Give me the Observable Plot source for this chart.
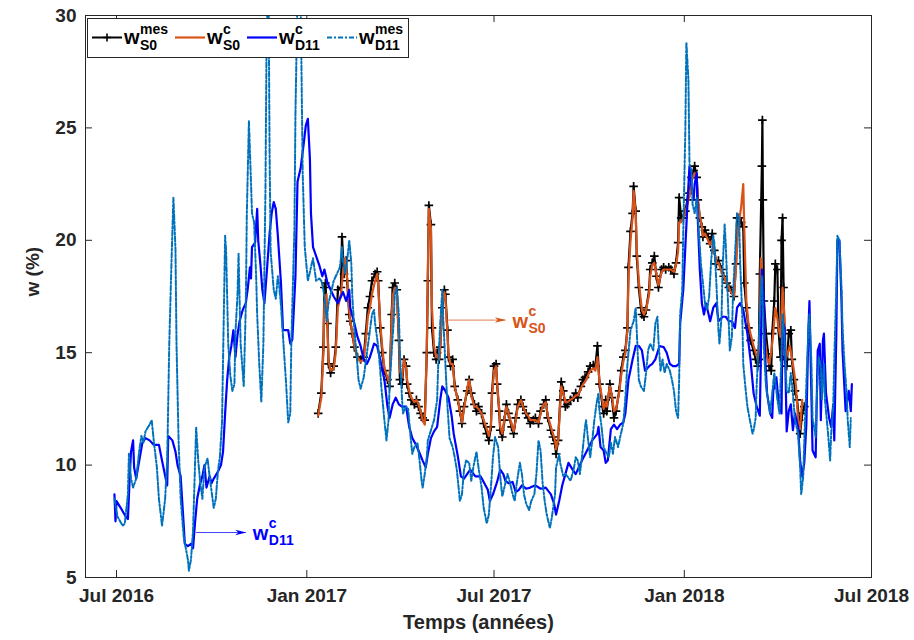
<!DOCTYPE html>
<html>
<head>
<meta charset="utf-8">
<script src="https://cdn.jsdelivr.net/npm/d3@7"></script>
<script src="https://cdn.jsdelivr.net/npm/@observablehq/plot@0.6"></script>
<style>
  html, body { margin: 0; padding: 0; background: #fff; }
  #chart { width: 914px; height: 640px; }
</style>
</head>
<body>
<div id="chart"></div>
<script>
// ---------- DATA (x = days since 2016-07-01, y = w in %) ----------
const START = "2016-07-01";

const wD11c = [[-2,8.7],[-1,7.5],[0,8.4],[4,8.1],[9,7.7],[11,7.6],[13,9.7],[14,10.6],[16,11.1],[17,9.9],[19,9.4],[22,10.2],[25,11.0],[28,11.2],[32,11.1],[36,10.9],[41,10.9],[44,10.2],[48,9.3],[49,9.1],[50,11.3],[54,11.1],[57,10.6],[59,10.0],[62,9.5],[65,7.3],[66,6.5],[69,6.4],[72,6.5],[74,6.3],[76,7.5],[78,8.5],[81,9.2],[83,9.5],[85,10.0],[87,9.0],[90,9.5],[92,9.2],[94,9.4],[98,9.7],[101,10.0],[103,10.6],[105,12.3],[107,13.8],[109,14.8],[111,15.3],[113,16.0],[115,14.8],[117,15.8],[119,16.4],[122,16.9],[125,17.2],[127,17.9],[129,18.8],[130,18.3],[131,19.7],[134,19.9],[136,21.4],[137,20.0],[139,19.0],[141,17.8],[143,17.2],[145,18.4],[148,20.3],[150,21.2],[152,21.7],[154,21.4],[156,20.2],[159,18.1],[161,16.0],[164,16.0],[166,16.0],[168,15.4],[170,15.6],[173,18.4],[175,22.6],[178,23.2],[181,24.3],[183,25.1],[185,25.4],[187,23.6],[188,21.2],[190,19.7],[193,19.3],[196,18.9],[199,18.4],[201,18.7],[204,18.1],[207,17.8],[210,17.5],[214,17.2],[217,17.5],[219,17.7],[222,17.3],[225,17.8],[226,17.0],[230,16.3],[233,15.7],[236,15.3],[239,14.7],[242,14.5],[245,14.8],[249,15.4],[252,15.3],[255,14.7],[259,13.8],[262,12.6],[264,12.1],[267,12.7],[270,13.0],[273,12.7],[276,12.6],[280,12.6],[283,11.7],[286,11.2],[289,10.95],[292,10.65],[296,10.2],[299,9.9],[301,10.5],[304,11.2],[307,11.5],[310,11.7],[313,12.9],[315,13.5],[318,13.3],[321,13.0],[324,12.2],[326,11.4],[330,10.4],[333,9.5],[336,9.4],[339,9.6],[342,9.8],[347,9.5],[352,9.5],[355,9.25],[359,8.9],[361,8.4],[364,8.7],[368,9.25],[371,9.8],[374,9.6],[376,9.3],[379,9.2],[383,9.25],[386,8.8],[389,8.9],[392,9.1],[396,8.95],[400,9.0],[405,9.1],[410,8.95],[415,9.0],[420,8.7],[423,8.3],[425,7.8],[428,8.4],[431,9.1],[434,9.6],[437,10.1],[441,9.8],[444,9.6],[447,9.9],[450,10.2],[455,10.65],[460,11.1],[465,11.4],[466,11.7],[468,10.8],[471,10.65],[473,10.1],[475,10.2],[478,11.6],[481,11.8],[484,11.6],[487,11.8],[490,11.9],[492,12.3],[495,13.8],[499,14.7],[502,15.3],[505,15.3],[508,15.1],[511,14.2],[515,14.4],[518,14.5],[521,14.7],[525,15.3],[529,15.25],[532,15.0],[535,14.5],[538,14.4],[541,14.4],[544,14.5],[545,16.3],[548,17.8],[550,19.7],[552,21.6],[554,23.3],[556,22.4],[558,21.8],[559,22.5],[561,23.0],[562,21.0],[564,18.7],[566,17.2],[568,16.7],[570,17.2],[573,16.6],[574,16.4],[577,17.0],[580,17.2],[582,16.4],[586,16.6],[589,16.6],[592,16.4],[595,16.4],[598,16.1],[600,17.0],[603,17.2],[606,16.9],[610,15.85],[613,14.7],[616,13.2],[619,12.6],[622,12.2],[623,14.7],[624,18.7],[626,17.3],[627,15.0],[629,13.2],[632,12.3],[634,12.1],[635,13.3],[638,13.9],[640,12.9],[643,12.3],[644,16.4],[646,16.1],[648,11.5],[650,12.4],[652,12.7],[654,11.55],[656,12.3],[659,11.7],[661,10.2],[663,9.5],[665,10.1],[667,11.8],[669,16.0],[670,17.3],[672,12.9],[673,10.65],[676,10.35],[678,15.1],[680,15.4],[681,12.0],[683,15.55],[684,15.85],[686,13.2],[689,12.1],[691,11.7],[693,12.7],[694,11.1],[696,15.85],[697,20.0],[699,20.0],[701,17.3],[702,15.1],[705,12.4],[706,12.7],[708,13.3],[710,12.4],[711,13.6]];

const wD11mes = [[-2,8.5],[1,7.7],[6,7.3],[8,7.4],[11,8.7],[12,10.5],[14,9.4],[16,9.0],[19,9.4],[22,10.65],[24,11.3],[26,11.0],[28,11.5],[32,11.8],[34,12.0],[36,11.1],[39,9.9],[41,8.5],[44,7.3],[47,8.5],[49,10.2],[51,15.4],[53,18.8],[55,21.9],[57,19.6],[58,15.4],[60,11.1],[62,8.5],[65,6.8],[69,5.8],[70,5.3],[72,5.8],[74,7.1],[77,11.7],[79,10.2],[81,9.2],[83,8.5],[85,9.9],[88,10.3],[90,9.5],[92,8.8],[94,8.1],[96,8.5],[98,9.7],[100,10.4],[102,11.9],[105,20.2],[106,19.5],[108,15.4],[110,14.0],[112,13.3],[114,13.6],[115,15.9],[117,17.6],[118,19.4],[120,15.4],[123,13.5],[125,17.1],[126,21.2],[128,25.3],[130,22.6],[131,21.2],[133,20.8],[135,18.4],[136,16.7],[138,14.5],[140,12.8],[142,15.4],[144,22.2],[145,28.4],[146,31],[147,31],[148,23.9],[149,19.5],[152,17.8],[154,17.4],[156,18.4],[157,18.1],[159,17.1],[161,15.7],[164,13.6],[166,11.9],[168,12.3],[169,15.4],[172,20.5],[173,25.6],[175,31],[178,31],[180,23.0],[182,19.7],[185,18.2],[188,18.8],[190,19.2],[193,18.2],[196,18.3],[198,18.2],[200,17.8],[202,17.0],[203,16.4],[205,17.2],[207,17.6],[210,18.2],[216,18.8],[218,19.7],[219,19.1],[221,18.5],[223,19.1],[225,20.0],[227,19.0],[228,17.5],[230,16.0],[232,15.0],[234,13.8],[236,13.4],[239,13.9],[241,14.6],[243,15.3],[245,16.0],[247,16.7],[249,16.9],[250,16.3],[253,15.3],[255,14.2],[256,13.5],[259,12.0],[261,11.1],[263,12.0],[264,13.5],[266,15.0],[268,16.4],[269,17.6],[271,17.9],[273,16.7],[274,15.0],[276,13.0],[277,12.3],[280,12.6],[282,12.5],[284,11.4],[286,10.5],[288,10.8],[291,11.0],[293,10.2],[295,9.3],[296,9.0],[298,9.6],[300,10.35],[301,11.1],[303,11.4],[305,11.7],[307,12.0],[310,12.9],[311,14.4],[313,16.3],[315,17.8],[316,16.4],[318,14.5],[320,12.6],[322,11.2],[325,10.8],[327,10.35],[329,9.8],[331,8.9],[332,8.4],[334,8.7],[336,9.8],[338,10.2],[341,10.1],[343,9.3],[345,9.9],[348,10.6],[350,9.9],[353,9.0],[355,8.1],[358,7.4],[360,7.8],[362,9.0],[364,10.35],[366,11.25],[369,10.8],[371,9.5],[373,8.6],[375,9.0],[378,9.6],[380,9.3],[383,8.7],[385,8.4],[387,9.2],[390,10.1],[392,9.6],[394,8.7],[396,8.3],[399,8.0],[401,8.4],[404,8.7],[406,9.6],[408,11.1],[410,10.65],[412,9.2],[414,8.4],[416,7.8],[419,7.2],[421,7.7],[424,8.7],[425,9.9],[428,10.5],[429,10.1],[432,9.5],[434,9.6],[436,9.5],[439,9.3],[442,9.8],[444,10.35],[446,10.2],[448,9.6],[450,10.35],[453,11.7],[454,12.0],[456,11.1],[458,10.35],[460,11.1],[462,12.0],[464,12.7],[466,13.2],[467,12.4],[469,11.7],[471,10.8],[474,10.5],[476,10.35],[478,11.0],[480,10.5],[482,11.25],[485,10.8],[487,11.25],[490,11.85],[492,13.0],[494,14.5],[497,16.0],[500,16.4],[502,17.0],[503,16.0],[505,13.8],[507,13.5],[510,13.3],[512,14.1],[514,15.1],[516,15.4],[519,15.1],[521,16.3],[523,16.6],[524,15.55],[526,14.2],[528,14.7],[530,14.1],[532,14.5],[535,14.2],[537,13.8],[539,13.3],[541,12.4],[543,12.1],[544,13.8],[545,16.7],[547,17.8],[548,20.4],[550,24.9],[551,28.8],[553,27.1],[554,23.4],[556,23.1],[557,21.6],[559,21.2],[561,21.9],[563,20.4],[565,19.0],[567,18.1],[569,17.2],[571,16.9],[573,17.5],[575,19.1],[577,20.2],[578,19.9],[580,18.1],[582,16.0],[583,15.4],[585,16.6],[586,18.7],[588,20.7],[589,19.9],[591,17.5],[593,15.1],[595,15.7],[596,17.5],[598,19.3],[600,21.2],[602,21.0],[603,19.0],[605,16.7],[606,14.5],[608,13.5],[610,12.6],[612,12.1],[615,11.4],[616,11.55],[618,12.1],[619,13.6],[621,15.55],[623,17.6],[624,18.4],[625,17.0],[626,15.1],[628,13.5],[630,12.9],[632,12.3],[634,13.2],[636,14.1],[639,12.9],[641,12.3],[643,15.0],[644,16.7],[646,15.55],[648,13.3],[650,13.2],[652,14.1],[654,13.2],[656,12.0],[659,11.4],[661,9.9],[662,8.7],[664,9.5],[665,11.1],[667,13.6],[669,16.1],[670,16.7],[672,14.4],[673,12.1],[676,11.25],[677,12.9],[679,14.8],[681,14.4],[682,12.9],[684,14.5],[685,12.9],[688,11.4],[690,10.2],[691,11.4],[693,12.6],[694,14.7],[696,17.9],[697,20.2],[699,20.0],[701,17.9],[702,16.1],[704,14.4],[706,13.2],[707,12.0],[709,10.8],[710,12.1]];

const wS0mes = [[195,12.3],[198,13.2],[200,15.25],[201,17.9],[202,18.1],[204,16.3],[205,14.5],[207,14.1],[210,14.4],[212,15.25],[214,17.8],[217,17.9],[218,20.15],[220,18.5],[222,19.1],[223,18.2],[225,16.7],[226,16.4],[228,15.85],[230,15.25],[233,14.8],[236,14.7],[239,14.8],[241,15.85],[243,17.0],[245,17.5],[247,18.2],[250,18.5],[252,18.6],[253,18.2],[255,16.1],[257,15.0],[259,14.2],[262,13.8],[264,13.5],[266,16.7],[267,17.9],[269,18.1],[271,17.8],[273,15.55],[274,13.8],[276,13.6],[278,14.7],[280,14.4],[281,13.6],[283,13.2],[285,12.9],[288,12.7],[290,12.9],[292,12.6],[294,12.3],[296,12.1],[298,12.0],[300,15.0],[301,18.2],[302,21.55],[304,20.7],[305,16.1],[307,15.0],[309,14.7],[310,15.0],[312,14.7],[313,15.25],[315,17.0],[317,17.8],[318,17.6],[320,16.0],[321,14.8],[323,14.4],[325,14.7],[327,13.5],[330,12.9],[332,12.4],[334,11.85],[336,12.6],[339,13.3],[341,13.8],[343,13.2],[346,12.7],[348,12.4],[350,12.6],[353,12.3],[355,11.85],[358,11.4],[360,11.1],[362,11.7],[363,13.2],[365,14.4],[367,14.5],[368,13.6],[370,12.4],[371,11.55],[373,11.25],[375,12.0],[377,12.7],[379,12.3],[382,11.7],[384,11.4],[386,12.1],[388,12.7],[391,12.9],[393,12.6],[396,12.3],[398,12.1],[400,11.85],[403,12.0],[405,12.1],[408,11.85],[410,12.4],[413,12.7],[415,12.9],[417,12.1],[420,11.55],[422,11.25],[424,10.95],[425,10.5],[427,11.1],[429,12.9],[430,13.7],[432,13.3],[434,12.6],[436,12.7],[439,12.9],[442,13.0],[444,13.2],[446,13.0],[449,13.5],[451,13.8],[453,13.9],[456,14.15],[458,14.4],[461,14.45],[463,14.4],[465,15.3],[467,13.6],[470,12.6],[471,12.3],[473,12.9],[474,12.4],[477,13.6],[479,13.0],[481,12.1],[483,12.4],[486,13.3],[488,14.2],[490,14.8],[492,15.1],[494,16.1],[495,18.8],[497,20.4],[499,21.2],[500,22.4],[502,21.3],[503,19.3],[505,17.9],[507,17.0],[508,16.7],[510,16.6],[512,16.9],[515,17.8],[516,18.7],[518,19.0],[520,19.3],[522,18.4],[524,17.9],[527,18.7],[529,18.8],[531,18.7],[534,18.8],[536,18.7],[539,18.5],[541,19.0],[543,19.9],[544,21.9],[546,21.0],[548,21.0],[550,21.3],[552,21.8],[554,22.1],[556,22.8],[558,23.1],[559,23.3],[561,22.8],[562,21.8],[564,21.0],[566,20.6],[567,20.15],[569,20.45],[572,20.15],[574,19.85],[576,20.3],[578,19.55],[580,18.95],[582,19.1],[585,18.7],[587,18.4],[590,18.1],[592,17.9],[594,17.8],[597,17.5],[599,18.95],[600,21.0],[602,21.0],[604,20.8],[606,20.6],[607,18.1],[609,17.0],[611,16.1],[613,15.55],[616,15.1],[618,14.7],[620,14.4],[621,14.7],[622,18.5],[624,23.3],[624.5,25.35],[625,21.8],[626,17.3],[628,15.85],[630,14.95],[631,14.4],[633,14.2],[634,15.85],[636,17.3],[637,18.95],[639,18.7],[640,16.1],[642,14.8],[643,20.0],[644,21.0],[645,17.9],[646,14.7],[648,14.4],[650,15.85],[652,16.0],[653,14.7],[655,13.8],[656,13.3],[658,12.9],[660,12.0],[661,11.4],[663,12.3],[665,12.6]];

const wS0c = [[195,12.2],[198,13.0],[200,15.0],[201,17.2],[203,17.6],[204,16.0],[205,14.6],[207,14.2],[210,14.3],[212,15.0],[214,17.0],[217,17.6],[219,18.6],[221,19.2],[223,18.3],[225,16.9],[226,16.4],[228,15.9],[230,15.3],[233,14.8],[236,14.6],[239,14.7],[241,15.5],[243,16.6],[245,17.0],[247,17.6],[250,18.2],[252,18.5],[253,18.0],[255,16.3],[257,15.2],[259,14.3],[262,13.9],[264,13.6],[266,16.3],[267,17.5],[269,17.9],[271,17.6],[273,15.8],[274,14.2],[276,13.9],[278,14.7],[280,14.3],[281,13.8],[283,13.3],[285,13.0],[288,12.8],[290,12.9],[292,12.7],[294,12.4],[296,12.0],[298,11.8],[300,15.2],[301,18.5],[302,21.4],[304,20.5],[305,17.0],[307,15.3],[309,14.8],[310,14.9],[312,14.7],[313,15.3],[315,17.2],[317,17.7],[318,17.4],[320,15.8],[321,14.9],[323,14.5],[325,14.5],[327,13.5],[330,12.9],[332,12.4],[334,11.9],[336,12.5],[339,13.4],[341,13.8],[343,13.1],[346,12.6],[348,12.6],[350,12.5],[353,12.3],[355,12.0],[358,11.6],[360,11.3],[362,11.8],[363,13.0],[365,14.2],[367,14.4],[368,13.6],[370,12.5],[371,11.7],[373,11.4],[375,12.0],[377,12.6],[379,12.3],[382,11.8],[384,11.5],[386,12.0],[388,12.6],[391,12.9],[393,12.6],[396,12.3],[398,12.2],[400,12.0],[403,12.0],[405,12.0],[408,11.9],[410,12.3],[413,12.7],[415,12.8],[417,12.2],[420,11.7],[422,11.4],[424,11.1],[425,10.7],[427,11.1],[429,12.7],[430,13.5],[432,13.2],[434,12.8],[436,12.8],[439,12.9],[442,13.0],[444,13.1],[446,13.1],[449,13.4],[451,13.6],[453,13.7],[456,14.0],[458,14.2],[461,14.3],[463,14.2],[465,14.8],[467,13.7],[470,12.8],[471,12.5],[473,12.8],[474,12.6],[477,13.5],[479,13.1],[481,12.4],[483,12.5],[486,13.2],[488,14.0],[490,14.6],[492,15.0],[494,16.0],[495,18.3],[497,20.0],[499,21.0],[500,22.2],[502,21.2],[503,19.6],[505,18.2],[507,17.3],[508,16.9],[510,16.7],[512,16.9],[515,17.6],[516,18.4],[518,18.9],[520,19.0],[522,18.5],[524,18.0],[527,18.6],[529,18.7],[531,18.7],[534,18.7],[536,18.7],[539,18.6],[541,18.9],[543,19.5],[544,20.8],[546,20.8],[548,21.0],[550,21.2],[552,21.6],[554,22.0],[556,22.6],[558,22.9],[559,23.0],[561,22.7],[562,21.9],[564,21.1],[566,20.6],[567,20.2],[569,20.3],[572,20.0],[574,19.8],[576,20.0],[578,19.5],[580,19.0],[582,19.0],[585,18.6],[587,18.4],[590,18.1],[592,17.9],[594,17.7],[597,17.5],[599,18.8],[601,20.5],[604,21.5],[606,22.5],[607,20.5],[609,17.3],[611,16.3],[613,15.85],[616,15.3],[618,15.0],[620,14.7],[622,15.5],[623,19.2],[624,18.5],[625,17.9],[627,15.55],[629,14.8],[631,14.5],[633,15.0],[635,15.85],[637,17.0],[639,16.5],[640,16.1],[642,15.7],[644,17.9],[646,16.5],[647,14.7],[649,15.0],[651,15.3],[653,14.8],[655,14.2],[657,13.5],[659,12.0],[661,11.6],[663,12.9]];

const xDomain = ["2016-06-01", "2018-07-01"];
const xTickDates = ["2016-07-01", "2017-01-01", "2017-07-01", "2018-01-01", "2018-07-01"];
const xTickLabels = ["Jul 2016", "Jan 2017", "Jul 2017", "Jan 2018", "Jul 2018"];
const yDomain = [5, 30];
const yTicks = [5, 10, 15, 20, 25, 30];

// annotations: arrow start/end (days) and level (w %)
const annotSub = ["S0", "D11"];
const annotSup = ["c", "c"];
const annotDay1 = [318, 77];
const annotDay2 = [376, 125];
const annotW = [16.45, 7.0];
const annotColor = ["#D95319", "#0000FF"];

const legendSup = ["mes", "c", "c", "mes"];
const legendSub = ["S0", "S0", "D11", "D11"];

// ---------- BUILD ----------
const t0 = Date.parse(START + "T00:00:00Z");
const toDate = d => new Date(t0 + d * 864e5);
const rows = arr => arr.map(([d, w]) => ({date: toDate(d), w}));
const S0mes = rows(wS0mes), S0c = rows(wS0c), D11c = rows(wD11c), D11mes = rows(wD11mes);
const xTicks = xTickDates.map(s => new Date(s + "T00:00:00Z"));
const labelOf = new Map(xTicks.map((d, i) => [+d, xTickLabels[i]]));
const annots = annotSub.map((s, i) => ({
  sub: s, sup: annotSup[i], x1: toDate(annotDay1[i]), x2: toDate(annotDay2[i]), w: annotW[i], color: annotColor[i]
}));

const W = 914, H = 640;
const mL = 85, mR = 43, mT = 15, mB = 63;
const innerW = W - mL - mR, innerH = H - mT - mB;
const axisColor = "#262626";
const FONT = "Liberation Sans, Arial, Helvetica, sans-serif";
const DASH = "5,2,2,2";

const plusSymbol = {
  draw(ctx, size) {
    const r = Math.sqrt(size / Math.PI);
    ctx.moveTo(-r, 0); ctx.lineTo(r, 0);
    ctx.moveTo(0, -r); ctx.lineTo(0, r);
  }
};
const headSymbol = {
  draw(ctx, size) {
    const r = Math.sqrt(size / Math.PI);
    ctx.moveTo(r, 0); ctx.lineTo(-r, -r * 0.5); ctx.lineTo(-r * 0.45, 0); ctx.lineTo(-r, r * 0.5); ctx.closePath();
  }
};

const chart = Plot.plot({
  width: W, height: H,
  marginLeft: mL, marginRight: mR, marginTop: mT, marginBottom: mB,
  style: {fontFamily: FONT, fontSize: "19px", fontWeight: "bold", color: axisColor, background: "white", overflow: "visible"},
  x: {type: "utc", domain: xDomain.map(s => new Date(s + "T00:00:00Z"))},
  y: {domain: yDomain},
  marks: [
    // data
    Plot.line(S0mes, {x: "date", y: "w", stroke: "#000000", strokeWidth: 2.2, clip: true}),
    Plot.dot(S0mes, {x: "date", y: "w", symbol: plusSymbol, r: 4.3, stroke: "#000000", strokeWidth: 1.7, fill: "none", clip: true}),
    Plot.line(S0c, {x: "date", y: "w", stroke: "#D95319", strokeWidth: 2.2, clip: true}),
    Plot.line(D11c, {x: "date", y: "w", stroke: "#0000FF", strokeWidth: 2.2, clip: true}),
    Plot.line(D11mes, {x: "date", y: "w", stroke: "#0072BD", strokeWidth: 2, strokeDasharray: DASH, clip: true}),
    // annotations
    Plot.link(annots, {x1: "x1", x2: "x2", y1: "w", y2: "w", stroke: "color", strokeWidth: 1, strokeOpacity: 0.75}),
    Plot.dot(annots, {x: "x2", y: "w", symbol: headSymbol, r: 5.5, fill: "color", stroke: "none", dx: -5}),
    Plot.text(annots, {x: "x2", y: "w", text: () => "w", fill: "color", fontSize: 20, textAnchor: "start", lineAnchor: "middle", dx: 7, dy: 1}),
    Plot.text(annots, {x: "x2", y: "w", text: "sup", fill: "color", fontSize: 14, textAnchor: "start", lineAnchor: "middle", dx: 23, dy: -9}),
    Plot.text(annots, {x: "x2", y: "w", text: "sub", fill: "color", fontSize: 14, textAnchor: "start", lineAnchor: "middle", dx: 23, dy: 8}),
    // inward ticks (all four sides)
    Plot.tickY(yTicks, {y: d => d, insetRight: innerW - 7, stroke: axisColor}),
    Plot.tickY(yTicks, {y: d => d, insetLeft: innerW - 7, stroke: axisColor}),
    Plot.tickX(xTicks, {x: d => d, insetTop: innerH - 7, stroke: axisColor}),
    Plot.tickX(xTicks, {x: d => d, insetBottom: innerH - 7, stroke: axisColor}),
    // axes labels
    Plot.axisY(yTicks, {tickSize: 0, tickPadding: 9, label: null, fontSize: 19}),
    Plot.axisX(xTicks, {tickSize: 0, tickPadding: 11, label: null, fontSize: 19, tickFormat: d => labelOf.get(+d)}),
    Plot.frame({stroke: axisColor, strokeWidth: 1}),
    Plot.text(["w (%)"], {frameAnchor: "left", text: d => d, rotate: -90, dx: -53, fontSize: 19, fill: axisColor}),
    Plot.text(["Temps (années)"], {frameAnchor: "bottom", text: d => d, dy: 51, fontSize: 20, fill: axisColor})
  ]
});

// ---------- LEGEND (MATLAB-style box, top-left inside axes) ----------
const svg = d3.select(chart);
const lg = svg.append("g").attr("font-family", FONT).attr("font-weight", "bold").attr("text-anchor", "start");
lg.append("rect").attr("x", 87.5).attr("y", 18.5).attr("width", 321).attr("height", 39)
  .attr("fill", "white").attr("stroke", axisColor).attr("stroke-width", 1);
const legendStyle = [
  {color: "#000000", width: 2, dash: null, marker: true},
  {color: "#D95319", width: 2.2, dash: null, marker: false},
  {color: "#0000FF", width: 2.2, dash: null, marker: false},
  {color: "#0072BD", width: 2, dash: DASH, marker: false}
];
const legendX = [92, 175, 247, 327];
const lineY = 37.5;
legendSup.forEach((sup, i) => {
  const x0 = legendX[i], st = legendStyle[i];
  const ln = lg.append("line").attr("x1", x0).attr("x2", x0 + 30).attr("y1", lineY).attr("y2", lineY)
    .attr("stroke", st.color).attr("stroke-width", st.width);
  if (st.dash) ln.attr("stroke-dasharray", st.dash);
  if (st.marker) {
    lg.append("path").attr("d", `M${x0 + 11},${lineY}h8M${x0 + 15},${lineY - 4}v8`)
      .attr("stroke", "#000").attr("stroke-width", 1.6);
  }
  const tx = x0 + 32;
  lg.append("text").attr("x", tx).attr("y", 44).attr("font-size", 20).attr("fill", "#000").text("w");
  lg.append("text").attr("x", tx + 16).attr("y", 33.5).attr("font-size", 14).attr("fill", "#000").text(sup);
  lg.append("text").attr("x", tx + 16).attr("y", 50).attr("font-size", 14).attr("fill", "#000").text(legendSub[i]);
});

document.getElementById("chart").appendChild(chart);
</script>
</body>
</html>
